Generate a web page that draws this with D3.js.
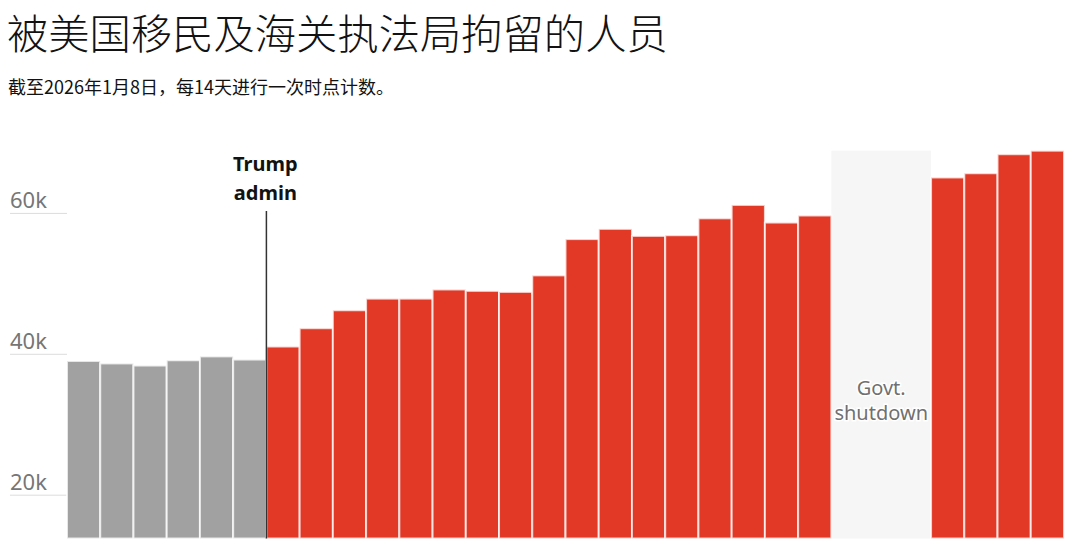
<!DOCTYPE html>
<html>
<head>
<meta charset="utf-8">
<script src="https://cdn.jsdelivr.net/npm/d3@7"></script>
<style>
  html, body { margin: 0; padding: 0; background: #fff; }
  svg { display: block; font-family: "Noto Sans", "Noto Sans CJK SC", sans-serif; }
</style>
</head>
<body>
<svg id="chart" width="1080" height="556"></svg>
<script>
// fortnightly counts, last one 8 Jan 2026 (null = no data during shutdown)
const periods = d3.range(1, 31).map(i => "p" + i);
const detained = [
  39050, 38700, 38400, 39150, 39700, 39250,
  41100, 43700, 46250, 47900, 47900, 49200, 49000, 48850, 51200,
  56350, 57800, 56800, 56900, 59300, 61200, 58700, 59700,
  null, null, null,
  65100, 65700, 68400, 68900
];
const trumpStart = 6;          // first bar under the new administration
const yTicks = [20000, 40000, 60000];

const svg = d3.select("#chart");

svg.append("text")
  .attr("x", 7).attr("y", 49)
  .attr("font-family", "'Noto Sans CJK SC', sans-serif")
  .attr("font-weight", 300)
  .attr("font-size", 41.3)
  .attr("fill", "#121212")
  .text("被美国移民及海关执法局拘留的人员");

svg.append("text")
  .attr("x", 8).attr("y", 94)
  .attr("font-family", "'Noto Sans CJK SC', sans-serif")
  .attr("font-size", 18)
  .attr("fill", "#121212")
  .text("截至2026年1月8日，每14天进行一次时点计数。");

const x = d3.scaleBand().domain(periods).range([67, 1064]).padding(0);
const y = d3.scaleLinear().domain([13850, 68900]).range([538.5, 150.7]);

// y gridlines + labels on the left
const grid = svg.append("g");
yTicks.forEach(t => {
  grid.append("line")
    .attr("x1", 10).attr("x2", 67)
    .attr("y1", y(t)).attr("y2", y(t))
    .attr("stroke", "#dcdcdc").attr("stroke-width", 1);
  grid.append("text")
    .attr("x", 10).attr("y", y(t) - 5)
    .attr("font-size", 22)
    .attr("fill", "#767676")
    .text(d3.format("~s")(t));
});

// shutdown shading
const gap = periods.filter((p, i) => detained[i] == null);
svg.append("rect")
  .attr("x", x(gap[0]))
  .attr("width", x(gap[gap.length - 1]) + x.bandwidth() - x(gap[0]))
  .attr("y", y(d3.max(detained)))
  .attr("height", y.range()[0] - y(d3.max(detained)))
  .attr("fill", "#f6f6f6");

svg.append("g").selectAll("rect")
  .data(periods.map((p, i) => ({p, v: detained[i], i})).filter(d => d.v != null))
  .join("rect")
  .attr("x", d => x(d.p))
  .attr("width", x.bandwidth())
  .attr("y", d => y(d.v))
  .attr("height", d => y.range()[0] - y(d.v))
  .attr("fill", d => d.i < trumpStart ? "#a1a1a1" : "#e23826")
  .attr("stroke", "#fff")
  .attr("stroke-opacity", 0.75)
  .attr("stroke-width", 2);

// shutdown label with a white halo
const mid = x(gap[0]) + (x(gap[gap.length - 1]) + x.bandwidth() - x(gap[0])) / 2;
const gl = svg.append("text")
  .attr("text-anchor", "middle")
  .attr("font-size", 20)
  .attr("fill", "#707070")
  .attr("stroke", "#fff").attr("stroke-width", 3)
  .attr("paint-order", "stroke");
gl.append("tspan").attr("x", mid).attr("y", 395).text("Govt.");
gl.append("tspan").attr("x", mid).attr("y", 420).text("shutdown");

// Trump admin marker
const tx = x(periods[trumpStart]);
svg.append("line")
  .attr("x1", tx).attr("x2", tx)
  .attr("y1", 211).attr("y2", y.range()[0])
  .attr("stroke", "#333").attr("stroke-width", 1.5);

const tl = svg.append("text")
  .attr("text-anchor", "middle")
  .attr("font-size", 20)
  .attr("font-weight", 700)
  .attr("fill", "#121212");
tl.append("tspan").attr("x", tx - 1).attr("y", 171).text("Trump");
tl.append("tspan").attr("x", tx - 1).attr("y", 200).text("admin");
</script>
</body>
</html>
